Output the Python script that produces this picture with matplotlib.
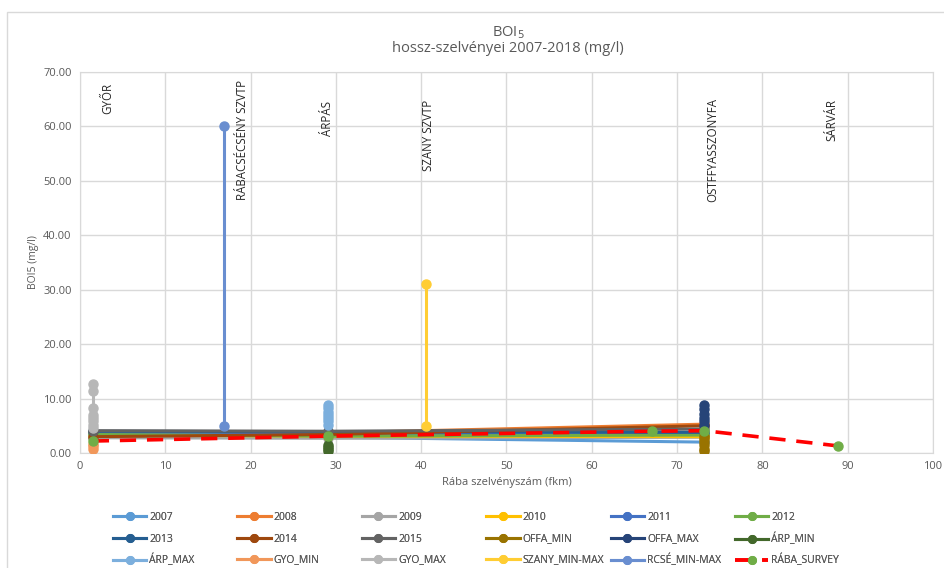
import matplotlib
matplotlib.use("Agg")
import matplotlib.pyplot as plt
from matplotlib.patches import Rectangle

# --- data -------------------------------------------------------------
# river kilometre of the sampling stations
station_km = [1.5, 29.1, 73.2]

years = ["2007", "2008", "2009", "2010", "2011", "2012", "2013", "2014", "2015"]
year_values = {
    "2007": [3.2, 2.9, 2.0],
    "2008": [3.8, 3.7, 5.3],
    "2009": [2.8, 2.7, 2.9],
    "2010": [3.3, 3.1, 3.0],
    "2011": [3.6, 3.5, 3.6],
    "2012": [3.4, 3.1, 3.3],
    "2013": [4.0, 3.9, 3.8],
    "2014": [3.0, 3.4, 5.0],
    "2015": [4.1, 4.0, 4.4],
}

# min / max sample series at single stations
offa_km = 73.2
offa_min = [0.3, 0.8, 1.4, 2.0, 2.6, 3.1]
offa_max = [5.2, 5.8, 6.5, 7.2, 8.0, 8.8]
arp_km = 29.1
arp_min = [0.3, 0.7, 1.1, 1.5]
arp_max = [5.2, 5.8, 6.4, 7.0, 7.6, 8.2, 8.8]
gyo_km = 1.5
gyo_min = [0.8, 1.2, 1.6]
gyo_max = [4.6, 5.2, 5.8, 6.4, 7.0, 8.2, 11.3, 12.7]
szany_km = 40.6
szany_minmax = [5.0, 31.0]
rcse_km = 16.9
rcse_minmax = [5.0, 60.0]

# survey along the river
survey_km = [1.5, 29.1, 67.0, 73.2, 88.9]
survey_val = [2.2, 3.1, 4.0, 4.1, 1.3]

# station names written on the chart
station_names = ["GYŐR", "RÁBACSÉCSÉNY SZVTP", "ÁRPÁS", "SZANY SZVTP",
                 "OSTFFYASSZONYFA", "SÁRVÁR"]
station_label_km = [3.2, 19.0, 29.0, 40.8, 74.2, 88.2]
station_label_y = [65.2, 57.5, 61.5, 58.4, 55.7, 61.2]

xticks = [0, 10, 20, 30, 40, 50, 60, 70, 80, 90, 100]
yticks = [0, 10, 20, 30, 40, 50, 60, 70]

# --- styling ----------------------------------------------------------
plt.rcParams["font.family"] = ["Open Sans", "DejaVu Sans"]
TXT = "#595959"

year_colors = {
    "2007": "#5B9BD5", "2008": "#ED7D31", "2009": "#A5A5A5",
    "2010": "#FFC000", "2011": "#4472C4", "2012": "#70AD47",
    "2013": "#255E91", "2014": "#9E480E", "2015": "#636363",
}
c_offa_min = "#997300"
c_offa_max = "#264478"
c_arp_min = "#43682B"
c_arp_max = "#7CAFDD"
c_gyo_min = "#F1975A"
c_gyo_max = "#B7B7B7"
c_szany = "#FFCD33"
c_rcse = "#698ED0"

fig = plt.figure(figsize=(9.44, 5.68), dpi=100)
W, H = 944, 568

# outer chart frame
fig.patches.append(Rectangle((7 / W, -0.01), 1.0, (568 - 12) / 568 + 0.01,
                             transform=fig.transFigure, fill=False,
                             edgecolor="#D9D9D9", linewidth=1.0))

ax = fig.add_axes([80 / W, (568 - 453) / H, (933 - 80) / W, (453 - 72) / H])
ax.set_xlim(0, 100)
ax.set_ylim(0, 70)
ax.set_xticks(xticks)
ax.set_yticks(yticks)
ax.set_yticklabels([f"{v:.2f}" for v in yticks])
ax.grid(True, color="#D9D9D9", linewidth=1.0)
ax.set_axisbelow(True)
for s in ax.spines.values():
    s.set_color("#D9D9D9")
ax.tick_params(length=0, labelsize=8, labelcolor=TXT, pad=6)

handles = {}
ms = 6.5
for y in years:
    (h,) = ax.plot(station_km, year_values[y], color=year_colors[y], lw=2.2,
                   marker="o", ms=ms, zorder=3)
    handles[y] = h


def vertical(km, vals, color, z=4):
    (h,) = ax.plot([km] * len(vals), vals, color=color, lw=2.2, marker="o",
                   ms=ms, zorder=z)
    return h


handles["OFFA_MIN"] = vertical(offa_km, offa_min, c_offa_min)
handles["OFFA_MAX"] = vertical(offa_km, offa_max, c_offa_max)
handles["ÁRP_MIN"] = vertical(arp_km, arp_min, c_arp_min)
handles["ÁRP_MAX"] = vertical(arp_km, arp_max, c_arp_max)
handles["GYO_MIN"] = vertical(gyo_km, gyo_min, c_gyo_min)
handles["GYO_MAX"] = vertical(gyo_km, gyo_max, c_gyo_max)
handles["SZANY_MIN-MAX"] = vertical(szany_km, szany_minmax, c_szany)
handles["RCSÉ_MIN-MAX"] = vertical(rcse_km, rcse_minmax, c_rcse)

(hs,) = ax.plot(survey_km, survey_val, color="#FF0000", lw=2.6,
                dashes=(4.5, 3), marker="o", ms=6.5, mfc="#70AD47",
                mec="#70AD47", zorder=6)
handles["RÁBA_SURVEY"] = hs

for name, xk, yv in zip(station_names, station_label_km, station_label_y):
    ax.text(xk, yv, name, rotation=90, ha="center", va="center",
            fontsize=8.3, color="#262626", zorder=7)

ax.set_xlabel("Rába szelvényszám (fkm)", fontsize=8, color=TXT, labelpad=3)
ax.set_ylabel("BOI5 (mg/l)", fontsize=7.5, color=TXT, labelpad=3)

fig.text(508 / W, 1 - 33 / H, r"BOI$_5$", ha="center", va="center",
         fontsize=10.5, color=TXT)
fig.text(508 / W, 1 - 49 / H, "hossz-szelvényei 2007-2018 (mg/l)",
         ha="center", va="center", fontsize=10.5, color=TXT)

# legend: 3 rows x 6 columns, row-major order; each entry placed on a grid
order = ["2007", "2008", "2009", "2010", "2011", "2012",
         "2013", "2014", "2015", "OFFA_MIN", "OFFA_MAX", "ÁRP_MIN",
         "ÁRP_MAX", "GYO_MIN", "GYO_MAX", "SZANY_MIN-MAX", "RCSÉ_MIN-MAX",
         "RÁBA_SURVEY"]
col_x0 = 113
col_dx = 124.4
row_y = [517, 539, 560]
for i, name in enumerate(order):
    r, c = divmod(i, 6)
    leg = fig.legend([handles[name]], [name], loc="center left",
                     bbox_to_anchor=((col_x0 + c * col_dx) / W, 1 - row_y[r] / H),
                     bbox_transform=fig.transFigure, frameon=False,
                     fontsize=7.5, labelcolor=TXT, handlelength=3.2,
                     handletextpad=0.3, borderpad=0, borderaxespad=0,
                     markerscale=0.85)
    fig.add_artist(leg)

fig.savefig("out.png", dpi=100)
